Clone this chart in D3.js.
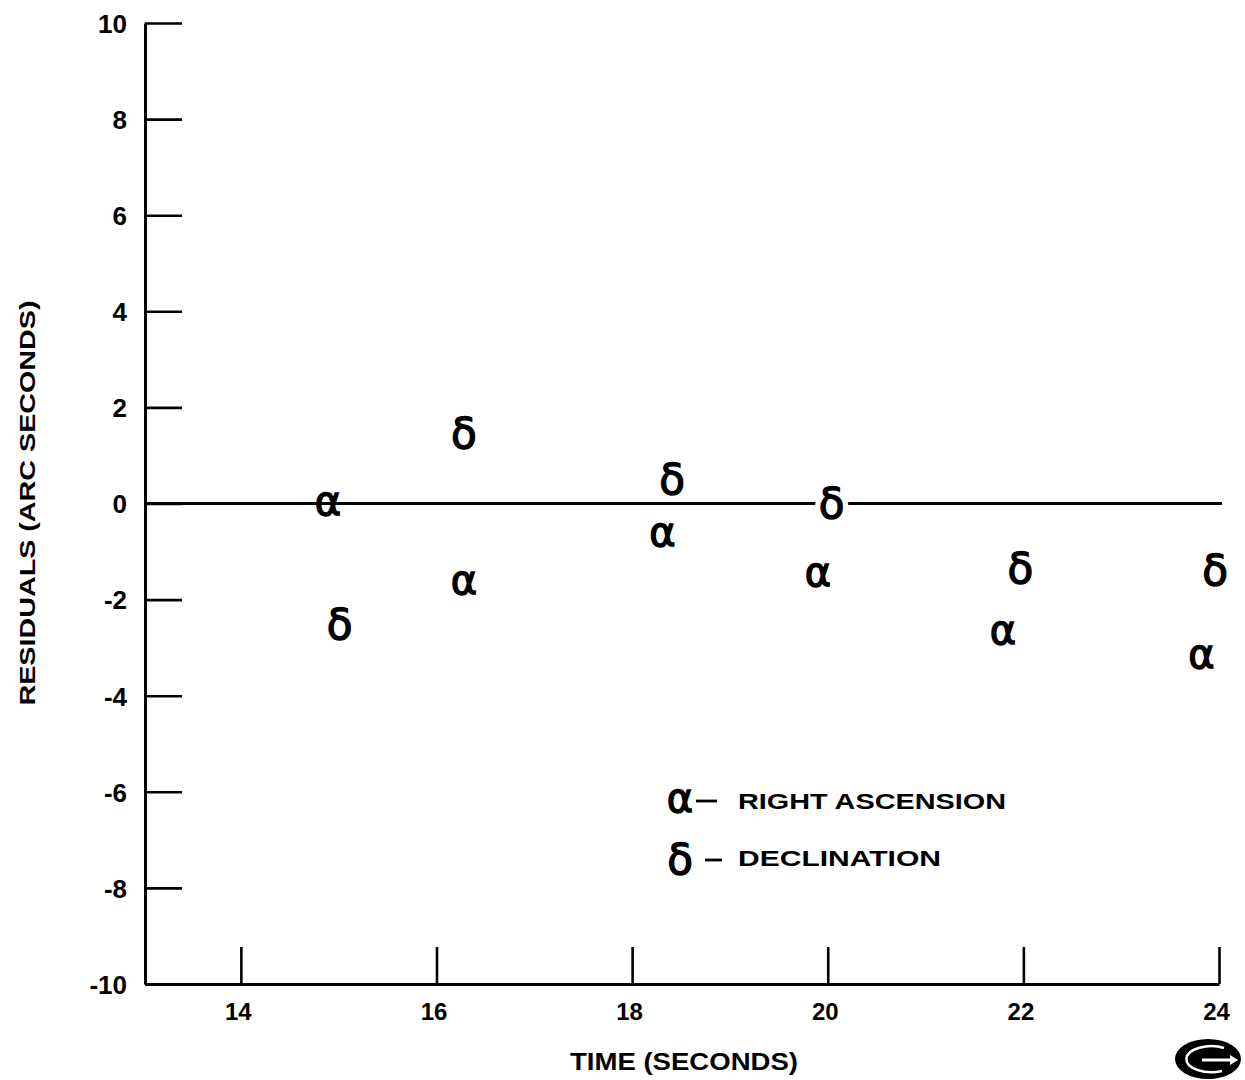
<!DOCTYPE html>
<html>
<head>
<meta charset="utf-8">
<script src="https://cdn.jsdelivr.net/npm/d3@7/dist/d3.min.js"></script>
<style>
  html, body { margin: 0; padding: 0; background: #fff; }
  svg { display: block; }
  .lbl { font-family: "Liberation Sans", Arial, Helvetica, sans-serif; fill: #000; }
  .sym { font-family: "DejaVu Sans", sans-serif; fill: #000; stroke: #000; stroke-width: 1.4px; }
  .halo { font-family: "DejaVu Sans", sans-serif; fill: #fff; stroke: #fff; stroke-width: 12px; }
</style>
</head>
<body>
<svg id="chart" width="1245" height="1080"></svg>
<script>
// Residuals of the fitted position, in arc seconds, against time
const alphaTimes  = [14.89, 16.28, 18.31, 19.90, 21.79, 23.82];
const alphaValues = [0.00, -1.65, -0.66, -1.49, -2.69, -3.19];
const deltaTimes  = [15.01, 16.28, 18.41, 20.04, 21.97, 23.96];
const deltaValues = [-2.49, 1.49, 0.53, 0.03, -1.32, -1.36];

const xTicks = [14, 16, 18, 20, 22, 24];
const yTicks = [10, 8, 6, 4, 2, 0, -2, -4, -6, -8, -10];

const legendSymbols = ["α", "δ"];
const legendNames = ["RIGHT ASCENSION", "DECLINATION"];

const xTitle = "TIME (SECONDS)";
const yTitle = "RESIDUALS (ARC SECONDS)";

const svg = d3.select("#chart");

const x = d3.scaleLinear().domain([13.02, 24]).range([145, 1219]);
const y = d3.scaleLinear().domain([-10, 10]).range([984, 23]);

const plain = d => String(d);

// Left axis with inward ticks
const yAxis = d3.axisRight(y).tickValues(yTicks).tickSizeInner(37).tickSizeOuter(0).tickFormat(plain);
const gy = svg.append("g").attr("transform", `translate(${x(13.02)},0)`).call(yAxis);
gy.select(".domain").attr("stroke", "#000").attr("stroke-width", 3);
gy.selectAll(".tick line").attr("stroke", "#000").attr("stroke-width", 2.6);
gy.selectAll(".tick text")
  .attr("class", "lbl")
  .attr("x", -18).attr("text-anchor", "end")
  .attr("dy", "0.36em")
  .style("font-size", "26px").style("font-weight", "bold");

// Bottom axis with inward ticks
const xAxis = d3.axisTop(x).tickValues(xTicks).tickSizeInner(37).tickSizeOuter(0).tickFormat(plain);
const gx = svg.append("g").attr("transform", `translate(0,${y(-10)})`).call(xAxis);
gx.select(".domain").attr("stroke", "#000").attr("stroke-width", 3);
gx.selectAll(".tick line").attr("stroke", "#000").attr("stroke-width", 2.6);
gx.selectAll(".tick text")
  .attr("class", "lbl")
  .attr("y", 27).attr("dy", "0.36em")
  .attr("text-anchor", "middle")
  .attr("transform", "translate(-3,0)")
  .style("font-size", "24px").style("font-weight", "bold");

// Zero reference line
svg.append("line")
  .attr("x1", x(13.02)).attr("x2", x(24.03))
  .attr("y1", y(0)).attr("y2", y(0))
  .attr("stroke", "#000").attr("stroke-width", 3);

const alphaPts = alphaTimes.map((t, i) => ({ t, v: alphaValues[i] }));
const deltaPts = deltaTimes.map((t, i) => ({ t, v: deltaValues[i] }));

// Right ascension points
svg.append("g").selectAll("text")
  .data(alphaPts)
  .join("text")
  .attr("class", "sym")
  .attr("x", d => x(d.t)).attr("y", d => y(d.v))
  .attr("dy", "0.28em")
  .attr("text-anchor", "middle")
  .style("font-size", "40px")
  .text("α");

// Declination points: white knockout first, so the zero line breaks around them
svg.append("g").selectAll("text")
  .data(deltaPts)
  .join("text")
  .attr("class", "halo")
  .attr("x", d => x(d.t)).attr("y", d => y(d.v))
  .attr("dy", "0.38em")
  .attr("text-anchor", "middle")
  .style("font-size", "42px")
  .text("δ");
svg.append("g").selectAll("text")
  .data(deltaPts)
  .join("text")
  .attr("class", "sym")
  .attr("x", d => x(d.t)).attr("y", d => y(d.v))
  .attr("dy", "0.38em")
  .attr("text-anchor", "middle")
  .style("font-size", "42px")
  .text("δ");

// Legend
const legendRows = [801, 858];
const lg = svg.append("g");
legendSymbols.forEach((s, i) => {
  const row = lg.append("g").attr("transform", `translate(0,${legendRows[i]})`);
  row.append("text").attr("class", "sym")
    .attr("x", 680).attr("y", 0)
    .attr("dy", i === 0 ? "0.28em" : "0.38em")
    .attr("text-anchor", "middle")
    .style("font-size", i === 0 ? "40px" : "42px")
    .text(s);
  row.append("line")
    .attr("x1", i === 0 ? 696 : 705).attr("x2", i === 0 ? 717 : 722)
    .attr("y1", i === 0 ? 0 : 2).attr("y2", i === 0 ? 0 : 2)
    .attr("stroke", "#000").attr("stroke-width", 2.8);
  row.append("text").attr("class", "lbl")
    .attr("x", 738).attr("y", 0).attr("dy", "0.36em")
    .attr("textLength", i === 0 ? 268 : 203).attr("lengthAdjust", "spacingAndGlyphs")
    .style("font-size", "22px").style("font-weight", "bold")
    .text(legendNames[i]);
});

// Axis titles
svg.append("text").attr("class", "lbl")
  .attr("x", 684).attr("y", 1062).attr("dy", "0.36em")
  .attr("text-anchor", "middle")
  .attr("textLength", 228).attr("lengthAdjust", "spacingAndGlyphs")
  .style("font-size", "23px").style("font-weight", "bold")
  .text(xTitle);

svg.append("text").attr("class", "lbl")
  .attr("transform", "translate(27,503) rotate(-90)")
  .attr("dy", "0.36em")
  .attr("text-anchor", "middle")
  .attr("textLength", 405).attr("lengthAdjust", "spacingAndGlyphs")
  .style("font-size", "22px").style("font-weight", "bold")
  .text(yTitle);

// Corner logo
const logo = svg.append("g").attr("transform", "translate(1208,1059)");
logo.append("ellipse").attr("rx", 33).attr("ry", 20).attr("fill", "#000");
logo.append("path")
  .attr("d", "M 16 -11 A 25 13 0 1 0 14 12")
  .attr("fill", "none").attr("stroke", "#fff").attr("stroke-width", 2.5);
logo.append("path")
  .attr("d", "M -6 1 L 24 1")
  .attr("stroke", "#fff").attr("stroke-width", 3);
logo.append("path")
  .attr("d", "M 22 -4 L 30 1 L 22 6 Z")
  .attr("fill", "#fff");
</script>
</body>
</html>
